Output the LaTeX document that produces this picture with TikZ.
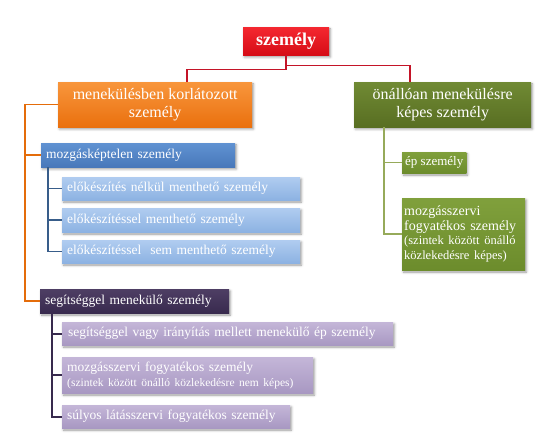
\documentclass[tikz,border=0pt]{standalone}
\usepackage{fontspec}
\setmainfont{Liberation Serif}
\usetikzlibrary{shadows.blur}
\definecolor{redA}{RGB}{244,40,48}
\definecolor{redB}{RGB}{214,12,22}
\definecolor{redL}{RGB}{196,20,40}
\definecolor{orA}{RGB}{248,150,60}
\definecolor{orB}{RGB}{234,112,14}
\definecolor{orL}{RGB}{228,108,10}
\definecolor{olA}{RGB}{112,138,52}
\definecolor{olB}{RGB}{88,110,34}
\definecolor{grA}{RGB}{128,160,60}
\definecolor{grB}{RGB}{108,140,44}
\definecolor{grL}{RGB}{150,170,90}
\definecolor{blA}{RGB}{96,146,210}
\definecolor{blB}{RGB}{72,120,186}
\definecolor{blL}{RGB}{56,93,138}
\definecolor{lbA}{RGB}{176,204,240}
\definecolor{lbB}{RGB}{140,178,226}
\definecolor{dpA}{RGB}{78,62,100}
\definecolor{dpB}{RGB}{56,42,78}
\definecolor{lpA}{RGB}{196,182,216}
\definecolor{lpB}{RGB}{168,152,194}
\tikzset{
  box/.style={anchor=north west, inner xsep=5pt, inner ysep=0pt, text=white,
    font=\fontsize{13.5}{15}\selectfont,
    blur shadow={shadow xshift=1.2pt, shadow yshift=-1.8pt, shadow blur radius=2.5pt, shadow opacity=40}},
  redbox/.style={box, top color=redA, bottom color=redB},
  orbox/.style={box, top color=orA, bottom color=orB},
  olbox/.style={box, top color=olA, bottom color=olB},
  grbox/.style={box, top color=grA, bottom color=grB},
  blbox/.style={box, top color=blA, bottom color=blB},
  lbbox/.style={box, top color=lbA, bottom color=lbB},
  dpbox/.style={box, top color=dpA, bottom color=dpB},
  lpbox/.style={box, top color=lpA, bottom color=lpB},
  redline/.style={draw=redL, line width=1.6pt},
  orline/.style={draw=orL, line width=1.6pt},
  blline/.style={draw=blL, line width=1.6pt},
  grline/.style={draw=grL, line width=1.6pt},
  dpline/.style={draw=dpB, line width=1.6pt},
}
\begin{document}
\begin{tikzpicture}[x=1pt,y=-1pt]
\useasboundingbox (0,0) rectangle (559,443);
% top
\node[redbox, minimum width=86pt, minimum height=28pt, align=center,
  font=\fontsize{18}{20}\selectfont\bfseries] (szem) at (243,27) {személy};
\node[orbox, minimum width=194pt, minimum height=45pt, align=center,
  font=\fontsize{16}{18.5}\selectfont] (menek) at (58,82) {menekülésben korlátozott\\személy};
\node[olbox, minimum width=177pt, minimum height=45pt, align=center,
  font=\fontsize{16}{18.5}\selectfont] (onallo) at (354,82) {önállóan menekülésre\\képes személy};
% blue branch
\node[blbox, minimum width=194pt, minimum height=24pt, text width=184pt, align=left] (mozg) at (41,143) {mozgásképtelen személy};
\node[lbbox, minimum width=238pt, minimum height=23pt, text width=228pt, align=left] (b1) at (62,177) {előkészítés nélkül menthető személy};
\node[lbbox, minimum width=238pt, minimum height=24pt, text width=228pt, align=left] (b2) at (62,208) {előkészítéssel menthető személy};
\node[lbbox, minimum width=238pt, minimum height=23pt, text width=228pt, align=left] (b3) at (62,240) {előkészítéssel\ \ sem menthető személy};
% green branch
\node[grbox, minimum width=60pt, minimum height=21pt, inner xsep=3pt, font=\fontsize{13}{15}\selectfont] (ep) at (402,152) {ép személy};
\node[grbox, minimum width=123pt, minimum height=72pt, text width=119pt, inner xsep=2pt, align=left,
  font=\fontsize{14}{15.5}\selectfont] (mozgg) at (402,198)
  {mozgásszervi\\fogyatékos személy\\{\fontsize{12.5}{13.5}\selectfont (szintek között önálló\\közlekedésre képes)}};
% purple branch
\node[dpbox, minimum width=189pt, minimum height=24pt, text width=179pt, align=left] (seg) at (40,289) {segítséggel menekülő személy};
\node[lpbox, minimum width=331pt, minimum height=23pt, text width=319pt, inner xsep=6pt, align=left] (p1) at (62,322) {segítséggel vagy irányítás mellett menekülő ép személy};
\node[lpbox, minimum width=251pt, minimum height=36pt, text width=241pt, align=left] (p2) at (62,357)
  {mozgásszervi fogyatékos személy\\{\fontsize{11.5}{12.5}\selectfont (szintek között önálló közlekedésre nem képes)}};
\node[lpbox, minimum width=228pt, minimum height=23pt, text width=218pt, align=left] (p3) at (62,405) {súlyos látásszervi fogyatékos személy};
% connectors
\draw[redline] (szem.south) -- ++(0,14) -| ([xshift=32pt]menek.north);
\draw[redline] (szem.south) -- ++(0,10) -| ([xshift=-33pt]onallo.north);
\coordinate (oc) at ([xshift=-33pt]menek.west);
\draw[orline] (menek.west) -- (oc) |- (seg.west);
\draw[orline] (oc) |- (mozg.west);
\coordinate (bc) at ([xshift=7pt]mozg.south west);
\draw[blline] (bc) |- (b3.west);
\draw[blline] (bc) |- (b2.west);
\draw[blline] (bc) |- (b1.west);
\coordinate (gc) at ([xshift=-59pt]onallo.south);
\draw[grline] (gc) |- (mozgg.west);
\draw[grline] (gc) |- (ep.west);
\coordinate (pc) at ([xshift=12pt]seg.south west);
\draw[dpline] (pc) |- (p3.west);
\draw[dpline] (pc) |- (p2.west);
\draw[dpline] (pc) |- (p1.west);
\end{tikzpicture}
\end{document}
